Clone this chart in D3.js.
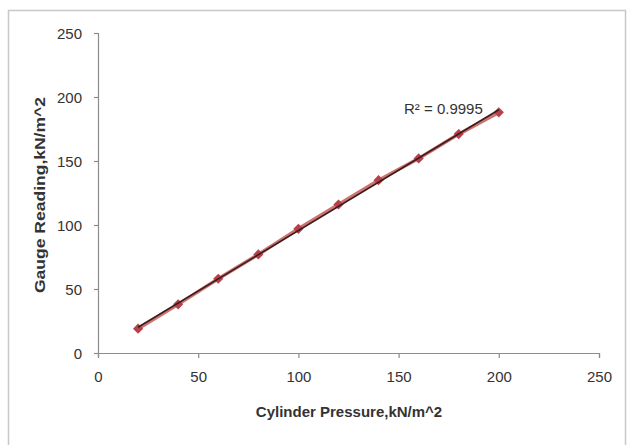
<!DOCTYPE html>
<html>
<head>
<meta charset="utf-8">
<script src="https://cdn.jsdelivr.net/npm/d3@7"></script>
<style>
  body { margin: 0; background: #fff; }
  .tick text { font-family: "Liberation Sans", Arial, sans-serif; font-size: 15px; fill: #333; }
  .axisText { font-family: "Liberation Sans", Arial, sans-serif; font-weight: bold; fill: #333; }
</style>
</head>
<body>
<div id="chart"></div>
<script>
// chart data: cylinder pressure vs gauge reading
var pressure = [20, 40, 60, 80, 100, 120, 140, 160, 180, 200];
var gauge = [19, 38, 58, 77, 97, 116, 135, 152, 171, 188];
var tickValues = [0, 50, 100, 150, 200, 250];
var rSquaredLabel = "R² = 0.9995";

var svgWidth = 629;
var svgHeight = 445;

var margin = { top: 33, right: 30, bottom: 92, left: 98 };
var width = 599 - margin.left;
var height = 353 - margin.top;

var svg = d3.select("#chart")
  .append("svg")
  .attr("width", svgWidth)
  .attr("height", svgHeight);

// outer chart frame
svg.append("rect")
  .attr("x", 8.5)
  .attr("y", 10.5)
  .attr("width", 617)
  .attr("height", 450)
  .attr("fill", "none")
  .attr("stroke", "#c8c8c8")
  .attr("stroke-width", 1.5);

var chartGroup = svg.append("g")
  .attr("transform", `translate(${margin.left}, ${margin.top})`);

var xScale = d3.scaleLinear().domain([0, 250]).range([0, width]);
var yScale = d3.scaleLinear().domain([0, 250]).range([height, 0]);

var bottomAxis = d3.axisBottom(xScale).tickValues(tickValues).tickSize(5).tickPadding(13);
var leftAxis = d3.axisLeft(yScale).tickValues(tickValues).tickSize(4).tickPadding(12);

var xAxisG = chartGroup.append("g")
  .attr("transform", `translate(0, ${height})`)
  .call(bottomAxis);
var yAxisG = chartGroup.append("g").call(leftAxis);

[xAxisG, yAxisG].forEach(g => {
  g.select(".domain").attr("stroke", "#8c8c8c").attr("stroke-width", 1.2);
  g.selectAll(".tick line").attr("stroke", "#8c8c8c").attr("stroke-width", 1.2);
});
yAxisG.selectAll(".tick text").attr("dy", "0.35em");

// series line
var line = d3.line()
  .x((d, i) => xScale(pressure[i]))
  .y(d => yScale(d));

chartGroup.append("path")
  .datum(gauge)
  .attr("d", line)
  .attr("fill", "none")
  .attr("stroke", "#c0504d")
  .attr("stroke-width", 3.5)
  .attr("opacity", 0.8);

// markers (square rotated into a diamond)
chartGroup.selectAll(".marker")
  .data(gauge)
  .enter()
  .append("path")
  .attr("class", "marker")
  .attr("d", d3.symbol().type(d3.symbolSquare).size(52))
  .attr("transform", (d, i) => `translate(${xScale(pressure[i])}, ${yScale(d)}) rotate(45)`)
  .attr("fill", "#b8404a");

// linear trendline
var n = pressure.length;
var mx = d3.mean(pressure), my = d3.mean(gauge);
var sxy = d3.sum(pressure, (x, i) => (x - mx) * (gauge[i] - my));
var sxx = d3.sum(pressure, x => (x - mx) * (x - mx));
var slope = sxy / sxx;
var intercept = my - slope * mx;
var xEnds = [pressure[0], pressure[n - 1]];

chartGroup.append("line")
  .attr("x1", xScale(xEnds[0]))
  .attr("y1", yScale(slope * xEnds[0] + intercept))
  .attr("x2", xScale(xEnds[1]))
  .attr("y2", yScale(slope * xEnds[1] + intercept))
  .attr("stroke", "#3a1c1c")
  .attr("stroke-width", 1.6);

// R squared label
chartGroup.append("text")
  .attr("x", xScale(200) - 16)
  .attr("y", yScale(188) + 2)
  .attr("text-anchor", "end")
  .attr("font-family", "Liberation Sans, Arial, sans-serif")
  .attr("font-size", 15)
  .attr("fill", "#333")
  .text(rSquaredLabel);

// axis titles
chartGroup.append("text")
  .attr("class", "axisText")
  .attr("text-anchor", "middle")
  .attr("font-size", 15)
  .attr("x", 349 - margin.left)
  .attr("y", height + 64)
  .text("Cylinder Pressure,kN/m^2");

chartGroup.append("text")
  .attr("class", "axisText")
  .attr("text-anchor", "middle")
  .attr("font-size", 15)
  .attr("textLength", 196)
  .attr("lengthAdjust", "spacingAndGlyphs")
  .attr("transform", `translate(${45 - margin.left}, ${195 - margin.top}) rotate(-90)`)
  .text("Gauge Reading,kN/m^2");
</script>
</body>
</html>
